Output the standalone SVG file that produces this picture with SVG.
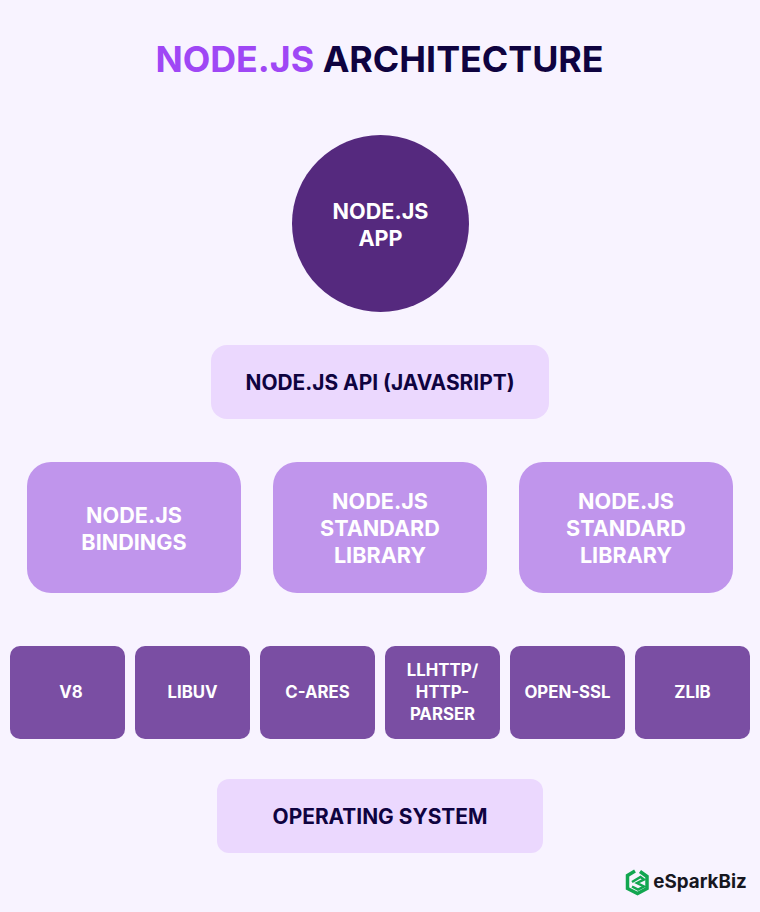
<svg xmlns="http://www.w3.org/2000/svg" width="760" height="912" viewBox="0 0 760 912">
<style>
text{font-family:Inter,"Liberation Sans",sans-serif;font-weight:700;text-anchor:middle}
.w{fill:#fff}.d{fill:#0f0340}
.t{font-size:35.800px}
.b{font-size:21.600px}.c{font-size:16.800px}.e{font-size:20.900px}
.l1{fill:#ebd8fe}.l2{fill:#c095ec}.l3{fill:#7a4ea3}
</style>
<rect width="760" height="912" fill="#f8f3ff"/>
<text class="t" x="379.500" y="72"><tspan fill="#9f47f5">NODE.JS</tspan><tspan fill="#0f0340"> ARCHITECTURE</tspan></text>
<g id="app"><circle cx="380.500" cy="223.500" r="88.500" fill="#55297e"/><text class="b w" x="380.500" y="219">NODE.JS</text><text class="b w" x="380.500" y="246">APP</text></g>
<g id="api"><rect class="l1" x="211" y="345" width="338" height="74" rx="16"/><text class="e d" x="380" y="390">NODE.JS API (JAVASRIPT)</text></g>
<g id="bindings"><rect class="l2" x="27" y="462" width="214" height="131" rx="24"/><text class="b w" x="134" y="523">NODE.JS</text><text class="b w" x="134" y="550">BINDINGS</text></g>
<g id="stdlib1"><rect class="l2" x="273" y="462" width="214" height="131" rx="24"/><text class="b w" x="380" y="509">NODE.JS</text><text class="b w" x="380" y="536">STANDARD</text><text class="b w" x="380" y="563">LIBRARY</text></g>
<g id="stdlib2"><rect class="l2" x="519" y="462" width="214" height="131" rx="24"/><text class="b w" x="626" y="509">NODE.JS</text><text class="b w" x="626" y="536">STANDARD</text><text class="b w" x="626" y="563">LIBRARY</text></g>
<g id="v8"><rect class="l3" x="10" y="646" width="115" height="93" rx="10"/><text class="c w" x="71" y="698">V8</text></g>
<g id="libuv"><rect class="l3" x="135" y="646" width="115" height="93" rx="10"/><text class="c w" x="192.500" y="698">LIBUV</text></g>
<g id="c-ares"><rect class="l3" x="260" y="646" width="115" height="93" rx="10"/><text class="c w" x="317.500" y="698">C-ARES</text></g>
<g id="llhttp"><rect class="l3" x="385" y="646" width="115" height="93" rx="10"/><text class="c w" x="442.500" y="676">LLHTTP/</text><text class="c w" x="442.500" y="698">HTTP-</text><text class="c w" x="442.500" y="720">PARSER</text></g>
<g id="openssl"><rect class="l3" x="510" y="646" width="115" height="93" rx="10"/><text class="c w" x="567.500" y="698">OPEN-SSL</text></g>
<g id="zlib"><rect class="l3" x="635" y="646" width="115" height="93" rx="10"/><text class="c w" x="692.500" y="698">ZLIB</text></g>
<g id="os"><rect class="l1" x="217" y="779" width="326" height="74" rx="12"/><text class="e d" x="380" y="824">OPERATING SYSTEM</text></g>
<g id="logo">
<path d="M635 871L627.500 875.500V888.500L637.500 893.500L647 888.500V876.500L640 871.500" fill="none" stroke="#12a650" stroke-width="3.500"/>
<path d="M632 882L640.500 877L644 879.500L637 883L644 886.500L638 889.500L632 886.500" fill="none" stroke="#12a650" stroke-width="2.500"/>
<text x="700" y="888" fill="#17171f" style="font-size:18.800px;font-weight:700">eSparkBiz</text>
</g>
<g id="connectors"></g>
</svg>
